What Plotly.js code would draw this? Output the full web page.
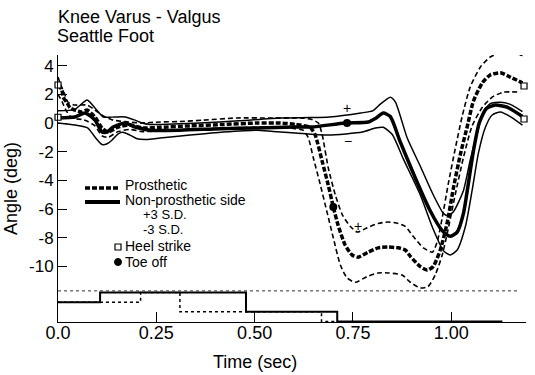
<!DOCTYPE html>
<html>
<head>
<meta charset="utf-8">
<script src="https://cdn.plot.ly/plotly-3.0.1.min.js"></script>
<style>html,body{margin:0;padding:0;background:#fff;}#chart{width:535px;height:375px;}</style>
</head>
<body>
<div id="chart"></div>
<script>
// ---- Non-prosthetic side (solid) ----
var npMeanT = [0, 0.043, 0.069, 0.094, 0.112, 0.125, 0.140, 0.170, 0.196, 0.234, 0.310, 0.412, 0.506, 0.603, 0.646, 0.730, 0.789, 0.809, 0.827, 0.845, 0.870, 0.908, 0.946, 0.977, 0.997, 1.015, 1.031, 1.043, 1.056, 1.071, 1.089, 1.112, 1.142, 1.181];
var npMeanV = [0.35, 0.42, 0.7, 0.2, -0.63, -0.63, -0.28, 0.0, -0.28, -0.5, -0.5, -0.4, -0.35, -0.28, -0.28, 0.0, 0.07, 0.35, 0.7, 0.45, -1.3, -3.8, -6.1, -7.5, -7.9, -7.6, -6.3, -4.3, -2.0, 0.0, 1.0, 1.25, 1.1, 0.45];
var npPlusT = [0, 0.043, 0.074, 0.094, 0.115, 0.145, 0.170, 0.196, 0.214, 0.234, 0.260, 0.360, 0.460, 0.565, 0.640, 0.690, 0.770, 0.800, 0.819, 0.845, 0.858, 0.888, 0.921, 0.954, 0.980, 0.990, 1.005, 1.031, 1.048, 1.066, 1.081, 1.099, 1.125, 1.150, 1.181];
var npPlusV = [0.85, 0.95, 1.6, 1.05, 0.42, 0.42, 0.42, 0.2, 0.0, -0.1, -0.1, 0.0, 0.15, 0.35, 0.38, 0.42, 0.7, 0.85, 1.3, 1.8, 1.46, -1.05, -3.0, -5.0, -6.3, -6.45, -6.2, -4.7, -2.6, -0.7, 0.7, 1.35, 1.45, 1.3, 0.8];
var npMinusT = [0, 0.043, 0.076, 0.094, 0.112, 0.125, 0.137, 0.153, 0.165, 0.183, 0.201, 0.225, 0.260, 0.336, 0.420, 0.506, 0.547, 0.603, 0.687, 0.774, 0.807, 0.827, 0.850, 0.878, 0.921, 0.954, 0.980, 0.997, 1.015, 1.036, 1.053, 1.069, 1.087, 1.104, 1.125, 1.150, 1.181];
var npMinusV = [0.0, -0.14, -0.35, -0.98, -1.5, -1.45, -1.2, -0.75, -0.65, -0.84, -1.1, -1.15, -1.05, -0.84, -0.63, -0.5, -0.6, -0.7, -0.84, -0.63, -0.35, -0.3, -0.8, -2.5, -5.0, -7.4, -8.9, -9.2, -8.85, -7.2, -4.7, -2.1, -0.28, 0.56, 0.77, 0.45, -0.15];

// ---- Prosthetic side (dashed) ----
var prMeanT = [0, 0.010, 0.013, 0.023, 0.031, 0.043, 0.061, 0.074, 0.094, 0.112, 0.127, 0.153, 0.183, 0.214, 0.260, 0.336, 0.420, 0.506, 0.565, 0.603, 0.641, 0.654, 0.672, 0.687, 0.700, 0.712, 0.730, 0.748, 0.763, 0.789, 0.814, 0.840, 0.865, 0.883, 0.896, 0.921, 0.939, 0.954, 0.972, 0.990, 1.005, 1.023, 1.041, 1.056, 1.079, 1.099, 1.125, 1.150, 1.181];
var prMeanV = [2.65, 2.3, 1.8, 1.4, 1.05, 0.9, 0.77, 0.9, 0.42, -0.35, -0.63, -0.28, -0.14, -0.35, -0.3, -0.2, -0.1, 0.0, 0.0, -0.1, -0.3, -0.84, -2.7, -4.3, -5.85, -7.1, -8.5, -9.2, -9.35, -9.0, -8.7, -8.65, -8.7, -8.85, -9.3, -10.0, -10.25, -10.0, -8.85, -6.9, -4.6, -2.2, -0.2, 1.5, 2.8, 3.35, 3.5, 3.2, 2.8];
var prPlusT = [0, 0.005, 0.018, 0.025, 0.043, 0.074, 0.094, 0.115, 0.140, 0.170, 0.209, 0.260, 0.310, 0.369, 0.455, 0.539, 0.616, 0.641, 0.662, 0.672, 0.687, 0.705, 0.723, 0.743, 0.761, 0.786, 0.814, 0.840, 0.865, 0.883, 0.903, 0.929, 0.952, 0.964, 0.977, 0.992, 1.010, 1.028, 1.048, 1.074, 1.099, 1.125, 1.155, 1.181];
var prPlusV = [3.2, 2.8, 1.95, 1.46, 1.25, 1.25, 0.9, 0.5, 0.2, 0.1, 0.0, 0.07, 0.1, 0.2, 0.35, 0.35, 0.35, 0.28, 0.0, -0.84, -3.1, -5.0, -6.4, -7.2, -7.6, -7.3, -7.0, -6.9, -7.0, -7.2, -7.9, -8.7, -9.0, -8.3, -6.6, -4.3, -1.8, 0.5, 2.5, 3.9, 4.6, 4.9, 4.9, 4.7];
var prMinusT = [0, 0.010, 0.020, 0.030, 0.043, 0.061, 0.076, 0.094, 0.112, 0.127, 0.153, 0.183, 0.214, 0.260, 0.336, 0.420, 0.506, 0.565, 0.603, 0.623, 0.636, 0.649, 0.667, 0.684, 0.700, 0.718, 0.735, 0.756, 0.786, 0.814, 0.840, 0.875, 0.896, 0.921, 0.941, 0.959, 0.977, 0.992, 1.010, 1.031, 1.053, 1.079, 1.104, 1.132, 1.176];
var prMinusV = [2.0, 1.5, 0.9, 0.5, 0.3, 0.25, 0.1, -0.2, -0.9, -1.0, -0.6, -0.45, -0.6, -0.55, -0.45, -0.35, -0.3, -0.3, -0.4, -0.5, -1.0, -2.4, -4.3, -6.2, -8.0, -9.9, -10.8, -11.1, -10.7, -10.45, -10.45, -10.6, -11.1, -11.5, -11.4, -10.6, -9.2, -7.4, -5.0, -2.4, -0.2, 1.1, 1.8, 2.15, 2.15];

// ---- Gait events ----
var heelStrikeT = [0, 0, 1.185, 1.185];
var heelStrikeV = [2.65, 0.4, 2.58, 0.28];
var toeOffT = [0.735, 0.700];
var toeOffV = [0.0, -5.85];

// ---- Foot-contact step traces (lower panel, levels 0..3) ----
var stepSolidT = [0, 0.107, 0.478, 0.71, 1.13];
var stepSolidL = [2, 3, 1, 0, 0];
var stepDotT = [0, 0.21, 0.31, 0.67, 0.71];
var stepDotL = [2, 3, 1, 0, 0];

// ---- Axis ticks ----
var xTickVals = [0, 0.25, 0.5, 0.75, 1.0];
var xTickText = ['0.0', '0.25', '0.50', '0.75', '1.00'];
var yTickVals = [-10, -8, -6, -4, -2, 0, 2, 4];
var yTickText = ['-10', '-8', '-6', '-4', '-2', '0', '2', '4'];

var K = '#000';
function ln(x, y, w, dash, name) {
  return {x: x, y: y, type: 'scatter', mode: 'lines', name: name, showlegend: false,
          line: {color: K, width: w, dash: dash, shape: 'spline', smoothing: 0.6}, hoverinfo: 'skip'};
}
var traces = [
  ln(npPlusT, npPlusV, 1.5, 'solid', 'Non-prosthetic +3 S.D.'),
  ln(npMinusT, npMinusV, 1.5, 'solid', 'Non-prosthetic -3 S.D.'),
  ln(prPlusT, prPlusV, 1.6, '5px,3px', 'Prosthetic +3 S.D.'),
  ln(prMinusT, prMinusV, 1.6, '5px,3px', 'Prosthetic -3 S.D.'),
  ln(npMeanT, npMeanV, 3.5, 'solid', 'Non-prosthetic side'),
  ln(prMeanT, prMeanV, 3.5, '5px,2px', 'Prosthetic'),
  {x: heelStrikeT, y: heelStrikeV, type: 'scatter', mode: 'markers', name: 'Heel strike', showlegend: false, cliponaxis: false,
   marker: {symbol: 'square', size: 6, color: '#fff', line: {color: K, width: 1.2}}},
  {x: toeOffT, y: toeOffV, type: 'scatter', mode: 'markers', name: 'Toe off', showlegend: false,
   marker: {symbol: 'circle', size: 8, color: K}},
  {x: stepSolidT, y: stepSolidL, yaxis: 'y2', type: 'scatter', mode: 'lines', showlegend: false, name: 'contact (non-prosthetic)',
   line: {color: K, width: 2, shape: 'hv'}},
  {x: stepDotT, y: stepDotL, yaxis: 'y2', type: 'scatter', mode: 'lines', showlegend: false, name: 'contact (prosthetic)',
   line: {color: K, width: 1.5, shape: 'hv', dash: 'dot'}}
];

function pxX(px) { return (px - 58) / 468; }
function pxY(py) { return (322 - py) / 267; }
var F = 'Liberation Sans, Arial, Helvetica, sans-serif';
function txt(text, x, y, size, anchor) {
  return {text: text, xref: 'paper', yref: 'paper', x: x, y: y, xanchor: anchor || 'left', yanchor: 'middle',
          showarrow: false, borderpad: 0, font: {family: F, size: size, color: K}};
}
function dtxt(text, x, y, size) {
  return {text: text, xref: 'x', yref: 'y', x: x, y: y, xanchor: 'center', yanchor: 'middle',
          showarrow: false, borderpad: 0, font: {family: F, size: size, color: K}};
}

var layout = {
  width: 535, height: 375,
  margin: {l: 58, r: 9, t: 55, b: 53},
  paper_bgcolor: '#fff', plot_bgcolor: '#fff',
  font: {family: F, color: K},
  title: {text: 'Knee Varus - Valgus', xref: 'container', yref: 'container', x: 58 / 535, xanchor: 'left',
          y: 1 - 16.5 / 375, yanchor: 'middle', font: {family: F, size: 18, color: K}},
  showlegend: false,
  xaxis: {range: [0, 1.19], tickvals: xTickVals, ticktext: xTickText, ticks: 'inside', ticklen: 10, tickwidth: 1,
          tickcolor: K, showline: true, linecolor: K, linewidth: 1, showgrid: false, zeroline: false,
          ticklabelstandoff: -6,
          tickfont: {family: F, size: 18, color: K}},
  yaxis: {range: [-13.87, 4.74], tickvals: yTickVals, ticktext: yTickText, ticks: 'inside', ticklen: 9, tickwidth: 1,
          tickcolor: K, showline: true, linecolor: K, linewidth: 1, showgrid: false, zeroline: false,
          tickfont: {family: F, size: 17, color: K},
          title: {text: 'Angle (deg)', font: {family: F, size: 18, color: K}, standoff: 6}},
  yaxis2: {overlaying: 'y', range: [-0.05, 27.55], visible: false, fixedrange: true},
  shapes: [
    {type: 'line', xref: 'x', yref: 'y', x0: 0, x1: 1.17, y0: -11.7, y1: -11.7, line: {color: '#333', width: 1, dash: 'dot'}},
    {type: 'line', xref: 'paper', yref: 'paper', x0: pxX(85), x1: pxX(120), y0: pxY(188), y1: pxY(188), line: {color: K, width: 3.5, dash: '5px,2px'}},
    {type: 'line', xref: 'paper', yref: 'paper', x0: pxX(85), x1: pxX(120), y0: pxY(202), y1: pxY(202), line: {color: K, width: 4}},
    {type: 'rect', xref: 'paper', yref: 'paper', xsizemode: 'pixel', ysizemode: 'pixel', xanchor: pxX(118), yanchor: pxY(247),
     x0: -3, x1: 3, y0: -3, y1: 3, line: {color: K, width: 1.2}, fillcolor: '#fff'},
    {type: 'circle', xref: 'paper', yref: 'paper', xsizemode: 'pixel', ysizemode: 'pixel', xanchor: pxX(118), yanchor: pxY(262),
     x0: -3.5, x1: 3.5, y0: -3.5, y1: 3.5, line: {color: K, width: 1}, fillcolor: K}
  ],
  annotations: [
    txt('Seattle Foot', pxX(56), pxY(36), 18),
    txt('Time (sec)', pxX(255), pxY(362), 18, 'center'),
    txt('Prosthetic', pxX(124), pxY(184.5), 14),
    txt('Non-prosthetic side', pxX(124), pxY(199.5), 14),
    txt('+3 S.D.', pxX(142), pxY(214.5), 13),
    txt('-3 S.D.', pxX(142), pxY(229.5), 13),
    txt('Heel strike', pxX(124), pxY(246), 14),
    txt('Toe off', pxX(124), pxY(261.5), 14),
    dtxt('+', 0.735, 1.05, 14),
    dtxt('\u2212', 0.738, -1.25, 14),
    dtxt('+', 0.763, -7.2, 14)
  ]
};

Plotly.newPlot('chart', traces, layout, {displayModeBar: false, staticPlot: true});
</script>
</body>
</html>
